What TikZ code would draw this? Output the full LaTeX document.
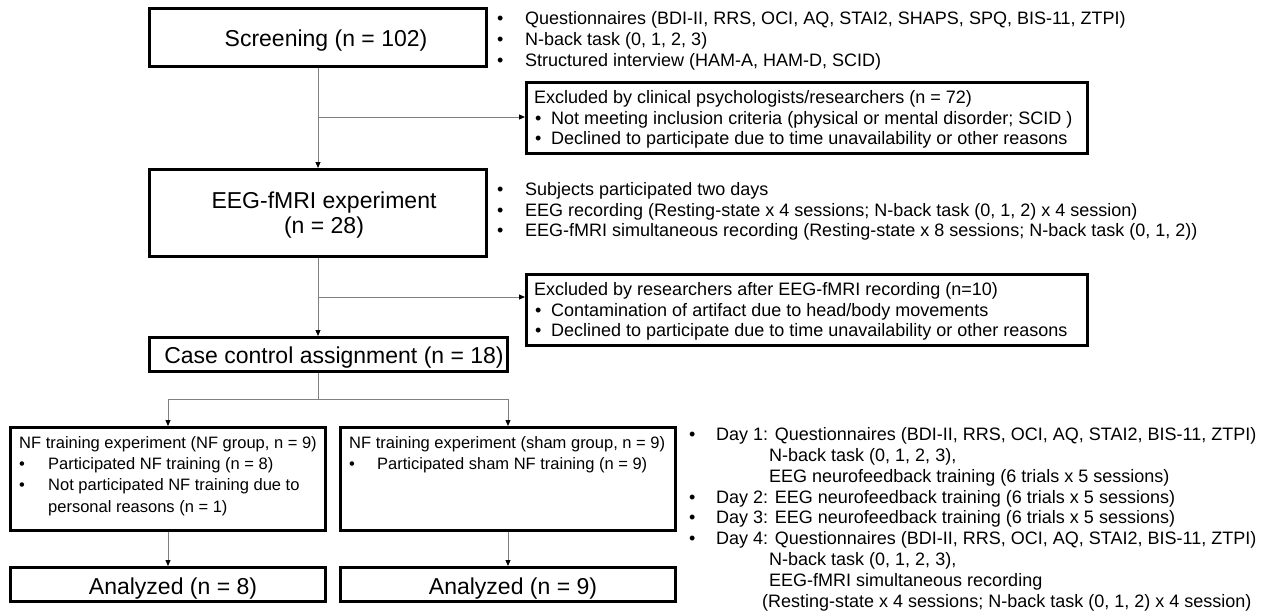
\documentclass[tikz,border=0pt]{standalone}
\usepackage{fontspec}
\setmainfont{Liberation Sans}
\usetikzlibrary{arrows.meta}
\begin{document}
\begin{tikzpicture}[x=1pt,y=-1pt,
  box/.style={draw=black, line width=2.6pt, inner sep=0pt, rectangle},
  conn/.style={draw=gray, line width=1pt, -{Triangle[length=6pt,width=5pt,color=black]}},
  plain/.style={draw=gray, line width=1pt},
  sm/.style={font=\fontsize{18}{20}\selectfont, inner sep=0pt, anchor=base west},
  nf/.style={font=\fontsize{16.5}{19}\selectfont, inner sep=0pt, anchor=base west},
  big/.style={font=\fontsize{23}{26}\selectfont, inner sep=0pt, anchor=base},
]
\path[fill=white,use as bounding box] (0,0) rectangle (1270,614);

% boxes
\node[box, minimum width=337.4pt, minimum height=58.4pt] (scr) at (318,37.5) {};
\node[box, minimum width=337.4pt, minimum height=87.4pt] (eeg) at (318,213) {};
\node[box, minimum width=358.4pt, minimum height=34.4pt] (cas) at (328.5,354.5) {};
\node[box, minimum width=561.4pt, minimum height=71.4pt] (ex1) at (807,118) {};
\node[box, minimum width=561.4pt, minimum height=71.4pt] (ex2) at (807,310) {};
\node[box, minimum width=315.4pt, minimum height=103.4pt] (nfl) at (168,479) {};
\node[box, minimum width=335.4pt, minimum height=103.4pt] (nfr) at (508,479) {};
\node[box, minimum width=315.4pt, minimum height=34.4pt] (anl) at (168,584.5) {};
\node[box, minimum width=335.4pt, minimum height=34.4pt] (anr) at (508,584.5) {};

% big texts
\node[big] (scrT) at (326,46.8) {Screening (n = 102)};
\node[big] (eegTa) at (324,208.8) {EEG-fMRI experiment};
\node[big] (eegTb) at (324,233.8) {(n = 28)};
\node[big] (casT) at (334,363.3) {Case control assignment (n = 18)};
\node[big] (anlT) at (173,594) {Analyzed (n = 8)};
\node[big] (anrT) at (513,594) {Analyzed (n = 9)};

% top bullets
\node[sm] (qa) at (497,24.5) {\makebox[28pt][l]{•}Questionnaires (BDI-II, RRS, OCI, AQ, STAI2, SHAPS, SPQ, BIS-11, ZTPI)};
\node[sm] (qb) at (497,45) {\makebox[28pt][l]{•}N-back task (0, 1, 2, 3)};
\node[sm] (qc) at (497,66) {\makebox[28pt][l]{•}Structured interview (HAM-A, HAM-D, SCID)};

% excluded 1
\node[sm] (xa) at (534,103.5) {Excluded by clinical psychologists/researchers (n = 72)};
\node[sm] (xb) at (535,124) {\makebox[16pt][l]{•}Not meeting inclusion criteria (physical or mental disorder; SCID )};
\node[sm] (xc) at (535,144.5) {\makebox[16pt][l]{•}Declined to participate due to time unavailability or other reasons};

% eeg bullets
\node[sm] (ea) at (497,195.5) {\makebox[28pt][l]{•}Subjects participated two days};
\node[sm] (eb) at (497,216) {\makebox[28pt][l]{•}EEG recording (Resting-state x 4 sessions; N-back task (0, 1, 2) x 4 session)};
\node[sm] (ec) at (497,236.5) {\makebox[28pt][l]{•}EEG-fMRI simultaneous recording (Resting-state x 8 sessions; N-back task (0, 1, 2))};

% excluded 2
\node[sm] (ya) at (534,295.5) {Excluded by researchers after EEG-fMRI recording (n=10)};
\node[sm] (yb) at (535,316) {\makebox[16pt][l]{•}Contamination of artifact due to head/body movements};
\node[sm] (yc) at (535,336.5) {\makebox[16pt][l]{•}Declined to participate due to time unavailability or other reasons};

% NF left
\node[nf] (la) at (19,448) {NF training experiment (NF group, n = 9)};
\node[nf] (lb) at (19,469) {\makebox[29pt][l]{•}Participated NF training (n = 8)};
\node[nf] (lc) at (19,490.5) {\makebox[29pt][l]{•}Not participated NF training due to};
\node[nf] (ld) at (48,512) {personal reasons (n = 1)};

% NF right
\node[nf] (ra) at (349,448) {NF training experiment (sham group, n = 9)};
\node[nf] (rb) at (349,469) {\makebox[28pt][l]{•}Participated sham NF training (n = 9)};

% bottom right
\node[sm] (d1) at (689,440.5) {\makebox[27pt][l]{•}Day 1: Questionnaires (BDI-II, RRS, OCI, AQ, STAI2, BIS-11, ZTPI)};
\node[sm] (d1b) at (769,461.3) {N-back task (0, 1, 2, 3),};
\node[sm] (d1c) at (769,482.1) {EEG neurofeedback training (6 trials x 5 sessions)};
\node[sm] (d2) at (689,503) {\makebox[27pt][l]{•}Day 2: EEG neurofeedback training (6 trials x 5 sessions)};
\node[sm] (d3) at (689,523.8) {\makebox[27pt][l]{•}Day 3: EEG neurofeedback training (6 trials x 5 sessions)};
\node[sm] (d4) at (689,544.6) {\makebox[27pt][l]{•}Day 4: Questionnaires (BDI-II, RRS, OCI, AQ, STAI2, BIS-11, ZTPI)};
\node[sm] (d4b) at (769,565.4) {N-back task (0, 1, 2, 3),};
\node[sm] (d4c) at (769,586.2) {EEG-fMRI simultaneous recording};
\node[sm] (d4d) at (762,607) {(Resting-state x 4 sessions; N-back task (0, 1, 2) x 4 session)};

% connectors
\coordinate (b1) at (318,117);
\coordinate (b2) at (318,297);
\coordinate (sp) at (318,399);
\draw[conn] (scr) -- (eeg);
\draw[conn] (b1) -- (b1 -| ex1.west);
\draw[conn] (eeg.south) -- (eeg.south |- cas.north);
\draw[conn] (b2) -- (b2 -| ex2.west);
\draw[plain] (sp |- cas.south) -- (sp);
\draw[plain] (nfl.north |- sp) -- (nfr.north |- sp);
\draw[conn] (nfl.north |- sp) -- (nfl.north);
\draw[conn] (nfr.north |- sp) -- (nfr.north);
\draw[conn] (nfl) -- (anl);
\draw[conn] (nfr) -- (anr);
\end{tikzpicture}
\end{document}
